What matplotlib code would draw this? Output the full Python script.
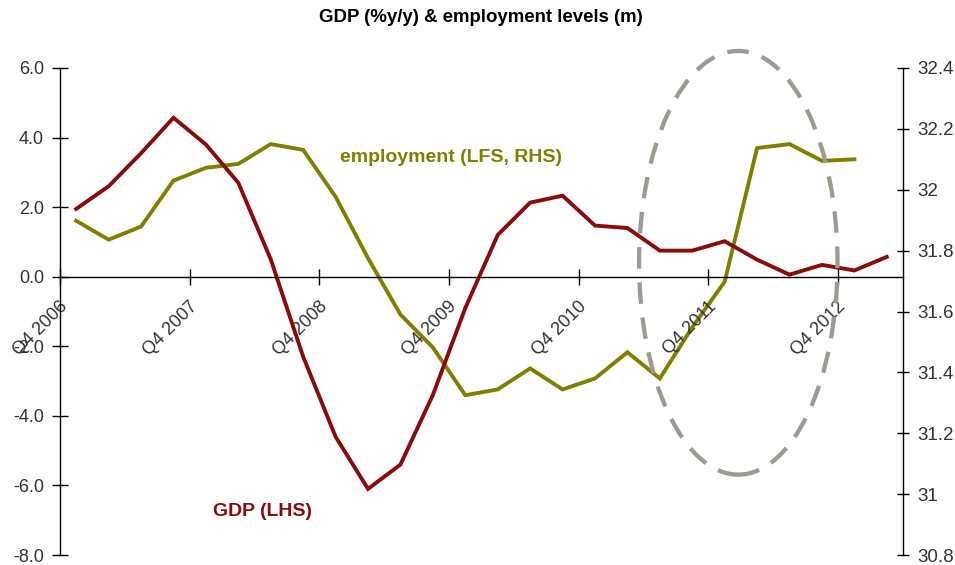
import matplotlib
matplotlib.use("Agg")
import matplotlib.pyplot as plt
import matplotlib.transforms as mtransforms
from matplotlib.patches import Ellipse

plt.rcParams['font.family'] = ['Liberation Sans', 'DejaVu Sans']

quarters = ["Q4 2006", "Q1 2007", "Q2 2007", "Q3 2007", "Q4 2007", "Q1 2008", "Q2 2008",
            "Q3 2008", "Q4 2008", "Q1 2009", "Q2 2009", "Q3 2009", "Q4 2009", "Q1 2010",
            "Q2 2010", "Q3 2010", "Q4 2010", "Q1 2011", "Q2 2011", "Q3 2011", "Q4 2011",
            "Q1 2012", "Q2 2012", "Q3 2012", "Q4 2012", "Q1 2013"]
gdp = [1.95, 2.6, 3.55, 4.57, 3.8, 2.7, 0.5, -2.3, -4.6, -6.1, -5.4, -3.4, -0.9, 1.2,
       2.13, 2.33, 1.47, 1.4, 0.75, 0.75, 1.02, 0.49, 0.06, 0.34, 0.18, 0.57]
employment = [31.898, 31.836, 31.879, 32.03, 32.072, 32.085, 32.15, 32.131, 31.977, 31.775,
              31.59, 31.482, 31.325, 31.344, 31.413, 31.344, 31.38, 31.466, 31.38, 31.548,
              31.698, 32.137, 32.15, 32.095, 32.10]
left_ticks = [-8.0, -6.0, -4.0, -2.0, 0.0, 2.0, 4.0, 6.0]
right_ticks = [30.8, 31.0, 31.2, 31.4, 31.6, 31.8, 32.0, 32.2, 32.4]
right_labels = ["30.8", "31", "31.2", "31.4", "31.6", "31.8", "32", "32.2", "32.4"]

GDP_COL = "#8b0a0a"
EMP_COL = "#808000"
TXT = "#333333"

fig = plt.figure(figsize=(9.55, 5.65), dpi=100)
ax = fig.add_axes([60 / 955, 1 - 555 / 565, (903 - 60) / 955, (555 - 68) / 565])
ax2 = ax.twinx()

x = list(range(len(quarters)))
ax2.plot(x[:len(employment)], employment, color=EMP_COL, lw=2.8, solid_joinstyle='miter')
ax.plot(x, gdp, color=GDP_COL, lw=2.8, solid_joinstyle='miter')

ax.set_zorder(ax2.get_zorder() + 1)
ax.patch.set_visible(False)

ax.set_xlim(-0.5, len(quarters) - 0.5)
ax.set_ylim(-8, 6)
ax2.set_ylim(30.8, 32.4)

for s in ["top", "right"]:
    ax.spines[s].set_visible(False)
for s in ["top", "left", "bottom"]:
    ax2.spines[s].set_visible(False)
ax.spines["bottom"].set_position(("data", 0))
ax.spines["bottom"].set_linewidth(1.0)
ax.spines["left"].set_linewidth(1.0)
ax2.spines["right"].set_linewidth(1.0)

ax.set_yticks(left_ticks)
ax.set_yticklabels([f"{v:.1f}" for v in left_ticks])
ax.tick_params(axis='y', direction='inout', length=11, width=1.0, pad=6,
               labelsize=13, labelcolor=TXT)
ax2.set_yticks(right_ticks)
ax2.set_yticklabels(right_labels)
ax2.tick_params(axis='y', direction='inout', length=9, width=1.0, pad=6,
                labelsize=13.5, labelcolor=TXT)

# category boundaries as tick marks, labels at category centres
label_pos = list(range(0, len(quarters), 4))
ax.set_xticks(label_pos)
ax.set_xticklabels([quarters[i] for i in label_pos], rotation=45, ha='right',
                   va='center', rotation_mode='anchor')
ax.set_xticks([p - 0.5 for p in label_pos], minor=True)
ax.tick_params(axis='x', which='major', length=0, pad=19.5, labelsize=13, labelcolor=TXT)
ax.tick_params(axis='x', which='minor', direction='inout', length=11, width=1.0)
offset = mtransforms.ScaledTranslation(-11 / 100, 0, fig.dpi_scale_trans)
for lab in ax.get_xticklabels():
    lab.set_transform(lab.get_transform() + offset)

fig.text(481 / 955, 1 - 17 / 565, "GDP (%y/y) & employment levels (m)", ha='center',
         va='center', fontsize=13.4, fontweight='bold', color='black')

fig.text(340 / 955, 1 - 157 / 565, "employment (LFS, RHS)", ha='left', va='center',
         fontsize=14, fontweight='bold', color=EMP_COL)
fig.text(213 / 955, 1 - 511 / 565, "GDP (LHS)", ha='left', va='center',
         fontsize=14, fontweight='bold', color=GDP_COL)

ell = Ellipse((20.42, 0.40), 6.12, 12.18, fill=False, edgecolor="#9e9a93", lw=3.1,
              linestyle=(0, (5, 3.2)), clip_on=False, zorder=10)
ax.add_patch(ell)

fig.savefig("out.png", dpi=100)
